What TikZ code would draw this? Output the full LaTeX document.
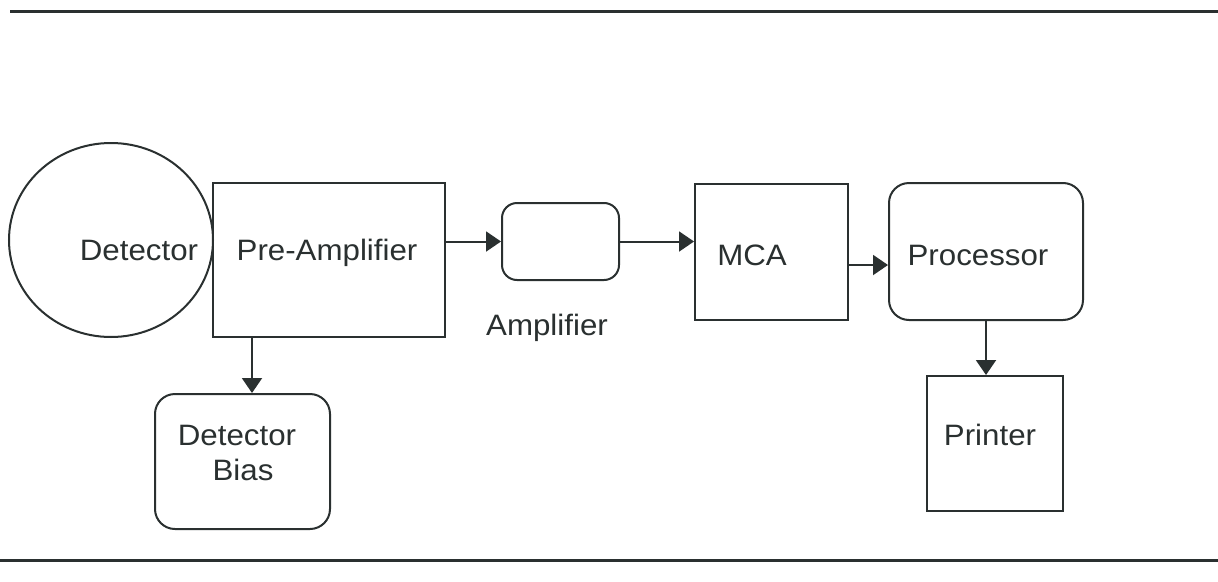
\documentclass[tikz,border=0pt]{standalone}
\usepackage{fontspec}
\setmainfont{Liberation Sans}[FakeStretch=1.06]
\usetikzlibrary{arrows.meta,shapes.geometric}
\definecolor{ink}{RGB}{42,48,48}
\begin{document}
\begin{tikzpicture}[x=1pt,y=-1pt,
  box/.style={draw=ink, line width=2pt, rectangle, inner sep=0pt},
  rbox/.style={box, rounded corners=#1},
  lbl/.style={text=ink, font=\fontsize{29.5}{36}\selectfont, inner sep=0pt, anchor=base},
  arr/.style={draw=ink, line width=2pt, -{Triangle[length=15pt,width=20pt]}},
  rule/.style={draw=ink, line width=3pt}]
\useasboundingbox (0,0) rectangle (1218,581);
\fill[white] (0,0) rectangle (1218,581);

% horizontal rules
\draw[rule] (10,11) -- (1218,11);
\draw[rule] (0,560) -- (1218,560);

% shapes
\node[draw=ink, line width=2pt, ellipse, minimum width=204pt, minimum height=194pt, inner sep=0pt] (det) at (111,240) {};
\node[box, minimum width=232pt, minimum height=154pt] (pre) at (329,260) {};
\node[rbox=15pt, minimum width=117pt, minimum height=77pt] (amp) at (560.5,241.5) {};
\node[box, minimum width=153pt, minimum height=136pt] (mca) at (771.5,252) {};
\node[rbox=20pt, minimum width=194pt, minimum height=137pt] (proc) at (986,251.5) {};
\node[rbox=20pt, minimum width=175pt, minimum height=135pt] (bias) at (242.5,461.5) {};
\node[box, minimum width=136pt, minimum height=135pt] (prn) at (995,443.5) {};

% labels
\node[lbl] (detl) at (139,260) {Detector};
\node[lbl] (prel) at (327,260) {Pre-Amplifier};
\node[lbl] (ampl) at (547,335) {Amplifier};
\node[lbl] (mcal) at (752,265) {MCA};
\node[lbl] (procl) at (978,265) {Processor};
\node[lbl] (biasl1) at (237,445) {Detector};
\node[lbl] (biasl2) at (243,480) {Bias};
\node[lbl] (prnl) at (990,445) {Printer};

% connectors
\coordinate (biastop) at ([xshift=9.5pt]bias.north);
\draw[arr] (pre.east |- amp.west) -- (amp.west);
\draw[arr] (amp.east) -- (amp.east -| mca.west);
\draw[arr] ([yshift=-13pt]mca.east) -- ([yshift=-13pt]mca.east -| proc.west);
\draw[arr] (biastop |- pre.south) -- (biastop);
\draw[arr] (proc.south) -- (proc.south |- prn.north);
\end{tikzpicture}
\end{document}
